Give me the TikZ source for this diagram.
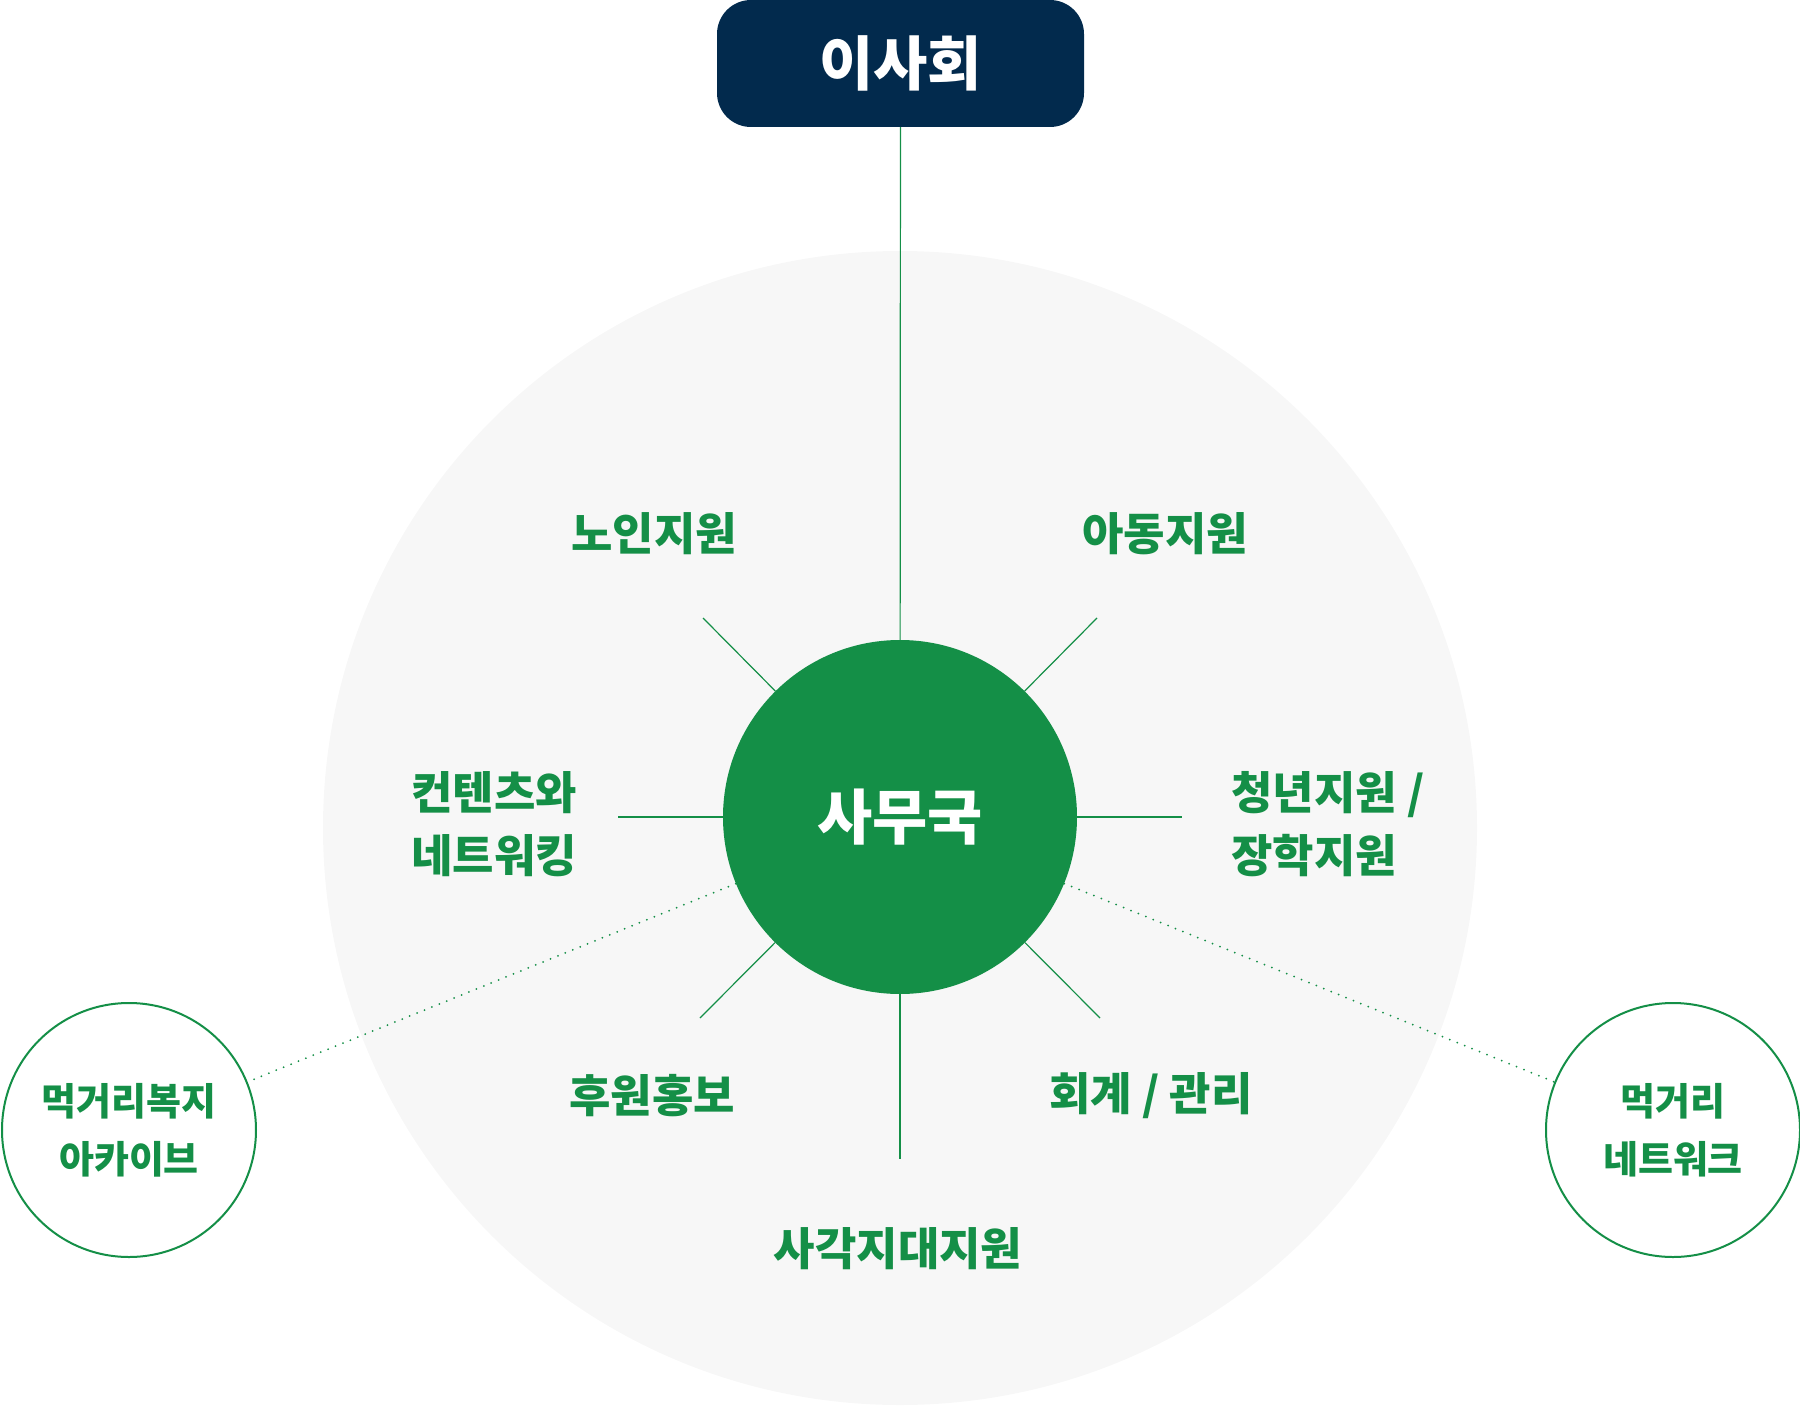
\documentclass[tikz,border=0pt]{standalone}
\usepackage{fontspec}
\setmainfont{Noto Sans CJK KR}
\usetikzlibrary{positioning, calc}
\definecolor{boardnavy}{HTML}{022A4D}
\definecolor{mgreen}{HTML}{148F47}
\definecolor{bggrey}{HTML}{F7F7F7}

\begin{document}
\begin{tikzpicture}[x=1pt, y=-1pt,
  spoke/.style={draw=mgreen, line width=1.2pt},
  dotline/.style={draw=mgreen, line width=2pt, dash pattern=on 0pt off 8pt, line cap=round},
  lbl/.style={text=mgreen, font=\fontsize{45}{63}\selectfont\bfseries, align=center},
  outer/.style={circle, draw=mgreen, line width=2pt, fill=white, minimum size=254pt, inner sep=0pt,
    text=mgreen, font=\fontsize{38}{58}\selectfont\bfseries, align=center}]
  \useasboundingbox (0,0) rectangle (1800,1407);
  \fill[bggrey] (900,828) circle (577);

  \node[fill=boardnavy, rounded corners=34pt, minimum width=367pt, minimum height=127pt, text=white,
    font=\fontsize{59}{60}\selectfont\bfseries] (board) at (900.5,63.5) {이사회};
  \node[circle, fill=mgreen, minimum size=354pt, inner sep=0pt, text=white,
    font=\fontsize{60}{60}\selectfont\bfseries] (office) at (900,817) {사무국};

  \node[outer] (archive) at (129,1130) {먹거리복지\\아카이브};
  \node[outer] (network) at (1673,1130) {먹거리\\네트워크};

  \coordinate (nwend) at (703,618);
  \coordinate (neend) at (1097,618);
  \coordinate (wend)  at (618,817);
  \coordinate (eend)  at (1182,817);
  \coordinate (swend) at (700,1018);
  \coordinate (seend) at (1100,1018);
  \coordinate (send)  at (900,1159);

  \node[lbl] (elder)   at (654,534)  {노인지원};
  \node[lbl] (child)   at (1165,534) {아동지원};
  \node[lbl] (content) at (494,824)  {컨텐츠와\\네트워킹};
  \node[lbl, align=left, anchor=west, inner sep=0pt] (youth) at (1231,824) {청년지원 /\\장학지원};
  \node[lbl] (donate)  at (652,1096) {후원홍보};
  \node[lbl] (account) at (1151,1096) {회계 / 관리};
  \node[lbl] (blind)   at (898,1249) {사각지대지원};

  \draw[spoke] (board) -- (office);
  \draw[spoke] (office) -- (nwend);
  \draw[spoke] (office) -- (neend);
  \draw[spoke] (office) -- (wend);
  \draw[spoke] (office) -- (eend);
  \draw[spoke] (office) -- (swend);
  \draw[spoke] (office) -- (seend);
  \draw[spoke] (office) -- (send);
  \draw[dotline] (office) -- (archive);
  \draw[dotline] (office) -- (network);
\end{tikzpicture}
\end{document}
